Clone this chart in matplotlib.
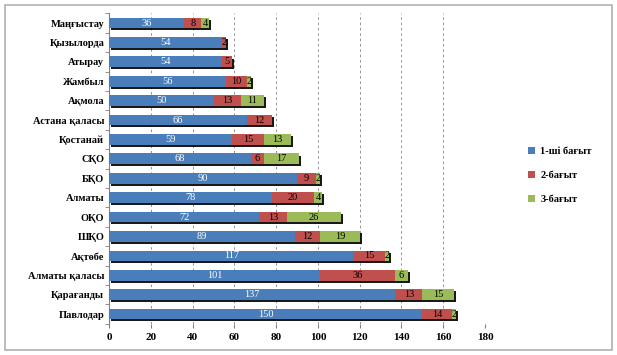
import matplotlib.pyplot as plt
import matplotlib.patheffects as pe
from matplotlib.patches import Rectangle

# Regions, top to bottom as shown in the chart
regions = ['Маңғыстау', 'Қызылорда', 'Атырау', 'Жамбыл', 'Ақмола',
           'Астана қаласы', 'Қостанай', 'СҚО', 'БҚО', 'Алматы', 'ОҚО',
           'ШҚО', 'Ақтөбе', 'Алматы қаласы', 'Қарағанды', 'Павлодар']
dir1 = [36, 54, 54, 56, 50, 66, 59, 68, 90, 78, 72, 89, 117, 101, 137, 150]
dir2 = [8, 2, 5, 10, 13, 12, 15, 6, 9, 20, 13, 12, 15, 36, 13, 14]
dir3 = [4, 0, 0, 2, 11, 0, 13, 17, 2, 4, 26, 19, 2, 6, 15, 2]
series_names = ['1-ші бағыт', '2-бағыт', '3-бағыт']
colors = ['#4a7ebb', '#c0504d', '#9bbb59']
text_colors = ['white', 'black', 'black']

plt.rcParams['font.family'] = ['Liberation Serif', 'DejaVu Serif']

fig = plt.figure(figsize=(6.17, 3.55), dpi=100)
ax = fig.add_axes([0.177, 0.088, 0.609, 0.8745])

# outer chart border
fig.patches.append(Rectangle((5 / 617, 5 / 355), 607 / 617, 345 / 355,
                             transform=fig.transFigure, fill=False,
                             edgecolor='#b0b0b0', linewidth=1.2))

# reversed so first region is on top
y = list(range(len(regions)))[::-1]
shadow = [pe.SimplePatchShadow(offset=(1.5, -1.5), shadow_rgbFace='black', alpha=0.9),
          pe.Normal()]

left = [0] * len(regions)
for vals, name, col, tcol in zip([dir1, dir2, dir3], series_names, colors, text_colors):
    bars = ax.barh(y, vals, left=left, height=0.55, color=col, label=name,
                   edgecolor='none', zorder=3)
    for b in bars:
        b.set_path_effects(shadow)
    for yi, v, l in zip(y, vals, left):
        if v > 0:
            ax.text(l + v / 2, yi, str(v), ha='center', va='center',
                    fontsize=7.5, color=tcol, zorder=4)
    left = [a + b for a, b in zip(left, vals)]

ax.set_yticks(y)
ax.set_yticklabels(regions, fontsize=7.5, fontweight='bold')
ax.set_ylim(-0.5, len(regions) - 0.5)
ax.set_xlim(0, 180)
ax.set_xticks(range(0, 181, 20))
ax.tick_params(axis='x', labelsize=8, length=3, color='#808080')
for lbl in ax.get_xticklabels():
    lbl.set_fontweight('bold')
ax.set_yticks([i + 0.5 for i in range(-1, len(regions))], minor=True)
ax.tick_params(axis='y', which='major', length=0)
ax.tick_params(axis='y', which='minor', length=3, color='#808080')
ax.xaxis.grid(True, linestyle=(0, (2.5, 3)), color='#909090', linewidth=0.7, zorder=0)
ax.set_axisbelow(True)
for s in ['top', 'right', 'bottom']:
    ax.spines[s].set_visible(False)
ax.spines['left'].set_color('#808080')

leg = fig.legend(loc='center left', bbox_to_anchor=(0.84, 0.505), frameon=False,
                 handlelength=0.7, handleheight=0.7, labelspacing=1.4,
                 handletextpad=0.5, prop={'weight': 'bold', 'size': 7.5})
for h in leg.legend_handles:
    h.set_path_effects([])

fig.savefig('out.png', dpi=100)
